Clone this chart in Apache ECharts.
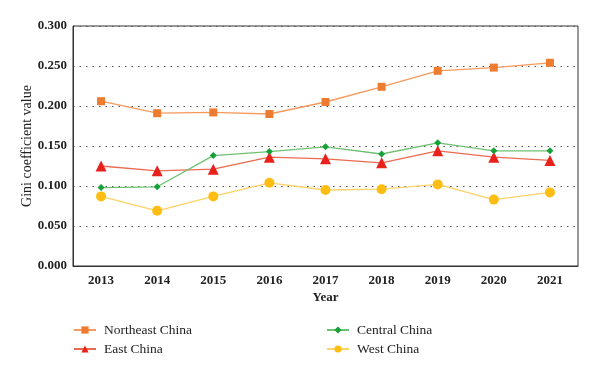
<!DOCTYPE html>
<html><head><meta charset="utf-8">
<script src="https://cdn.jsdelivr.net/npm/echarts@6/dist/echarts.min.js"></script>
<style>html,body{margin:0;padding:0;background:#fff}#c{width:600px;height:370px}</style>
</head><body><div id="c"></div>
<script>
var years = ['2013','2014','2015','2016','2017','2018','2019','2020','2021'];
var northeast = [0.206,0.191,0.192,0.190,0.205,0.224,0.244,0.248,0.254];
var east = [0.125,0.119,0.121,0.136,0.134,0.129,0.144,0.136,0.132];
var central = [0.098,0.099,0.138,0.143,0.149,0.140,0.154,0.144,0.144];
var west = [0.087,0.069,0.087,0.104,0.095,0.096,0.102,0.083,0.092];
var yTicks = ['0.000','0.050','0.100','0.150','0.200','0.250','0.300'];

var font = 'Liberation Serif';
var chart = echarts.init(document.getElementById('c'));
function ser(name, data, symbol, size, mColor, lColor){
  return {name:name, type:'line', data:data, symbol:symbol, symbolSize:size,
    itemStyle:{color:mColor}, lineStyle:{color:lColor, width:1.3}, z: 3};
}
chart.setOption({
  animation:false,
  textStyle:{fontFamily:font},
  grid:{left:73, right:22, top:26, bottom:104, show:true, borderColor:'#333', borderWidth:1},
  xAxis:{type:'category', data:years, boundaryGap:true,
    name:'Year', nameLocation:'middle', nameGap:25, nameMoveOverlap:false,
    nameTextStyle:{fontFamily:font, fontSize:13, color:'#222', fontWeight:'bold'},
    axisLine:{lineStyle:{color:'#333'}}, axisTick:{show:false},
    axisLabel:{fontFamily:font, fontSize:13, color:'#222', fontWeight:'bold', margin:8}},
  yAxis:{type:'value', min:0, max:0.3, interval:0.05,
    name:'Gini coefficient value', nameLocation:'middle', nameGap:39, nameMoveOverlap:false,
    nameTextStyle:{fontFamily:font, fontSize:14, color:'#222'},
    axisLine:{show:true, lineStyle:{color:'#333'}}, axisTick:{show:false},
    axisLabel:{fontFamily:font, fontSize:13, color:'#222', fontWeight:'bold', margin:6,
      formatter:function(v){ return yTicks[Math.round(v/0.05)]; }},
    splitLine:{show:true, lineStyle:{type:[1.5,5], color:'#555', width:1}}},
  legend:[
    {data:['Northeast China','East China'], orient:'vertical', left:68, top:318, itemWidth:22, itemHeight:9, itemGap:5,
      textStyle:{fontFamily:font, fontSize:13.5, color:'#222', padding:[0,0,0,3]}},
    {data:['Central China','West China'], orient:'vertical', left:321, top:318, itemGap:5, itemWidth:22, itemHeight:9,
      textStyle:{fontFamily:font, fontSize:13.5, color:'#222', padding:[0,0,0,3]}}
  ],
  series:[
    ser('Northeast China', northeast, 'rect', 8, '#ee7c30', '#f59a5e'),
    ser('East China', east, 'triangle', 11, '#e8211c', '#ec6a50'),
    ser('Central China', central, 'diamond', 7, '#15a03a', '#6fc070'),
    ser('West China', west, 'circle', 10, '#fdbd12', '#fdd266')
  ]
});
</script></body></html>
